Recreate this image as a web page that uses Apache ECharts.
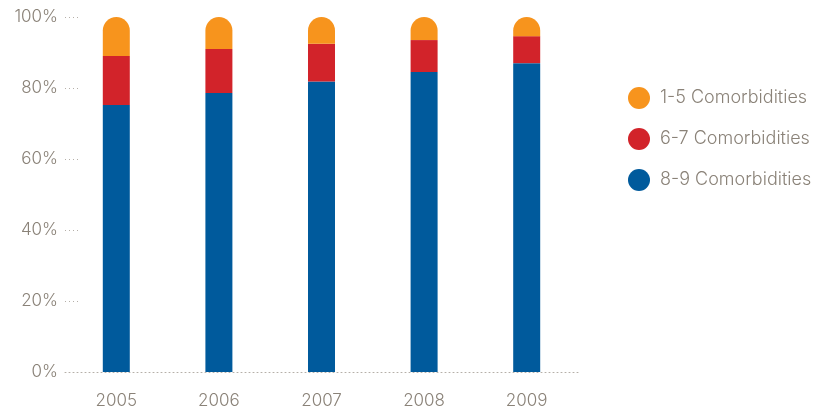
<!DOCTYPE html>
<html>
<head>
<meta charset="utf-8">
<script src="https://cdn.jsdelivr.net/npm/echarts@6/dist/echarts.min.js"></script>
<style>
  html, body { margin: 0; padding: 0; background: #fff; }
  #chart { width: 830px; height: 413px; }
</style>
</head>
<body>
<div id="chart"></div>
<script>
const years = ['2005', '2006', '2007', '2008', '2009'];
const low = [11.0, 9.0, 7.5, 6.5, 5.4];     // 1-5 comorbidities
const mid = [13.8, 12.4, 10.7, 9.0, 7.6];   // 6-7 comorbidities
const high = [75.2, 78.6, 81.8, 84.5, 87.0]; // 8-9 comorbidities
const yTicks = [0, 20, 40, 60, 80, 100];

const grey = '#8a8278';
const font = 'Inter';

const chart = echarts.init(document.getElementById('chart'));

chart.setOption({
    animation: false,
    grid: { left: 65, right: 252, top: 17, bottom: 41 },
    legend: {
        orient: 'vertical',
        left: 628,
        top: 87,
        padding: 0,
        icon: 'circle',
        itemWidth: 22,
        itemHeight: 22,
        itemGap: 19,
        data: ['1-5 Comorbidities', '6-7 Comorbidities', '8-9 Comorbidities'],
        textStyle: { color: grey, fontSize: 18, fontFamily: font, fontWeight: 300, padding: [0, 0, 0, 5] }
    },
    xAxis: {
        type: 'category',
        data: years,
        axisLine: { lineStyle: { color: '#b5afa8', type: [1, 3], width: 1 } },
        axisTick: { show: false },
        axisLabel: { color: grey, fontSize: 17, fontFamily: font, fontWeight: 300, margin: 20 }
    },
    yAxis: {
        type: 'value',
        min: 0,
        max: 100,
        interval: 20,
        axisLine: { show: false },
        axisTick: { show: true, inside: true, length: 15, lineStyle: { color: '#b5afa8', type: [1, 3] } },
        splitLine: { show: false },
        axisLabel: {
            color: grey, fontSize: 17, fontFamily: font, fontWeight: 300, margin: 7,
            formatter: v => yTicks.includes(v) ? v + '%' : ''
        }
    },
    series: [
        {
            name: '8-9 Comorbidities', type: 'bar', stack: 'all', barWidth: 27,
            data: high, itemStyle: { color: '#005a9c' }
        },
        {
            name: '6-7 Comorbidities', type: 'bar', stack: 'all', barWidth: 27,
            data: mid, itemStyle: { color: '#d2232a' }
        },
        {
            name: '1-5 Comorbidities', type: 'bar', stack: 'all', barWidth: 27,
            data: low, itemStyle: { color: '#f7941d', borderRadius: [14, 14, 0, 0] }
        }
    ]
});
</script>
</body>
</html>
